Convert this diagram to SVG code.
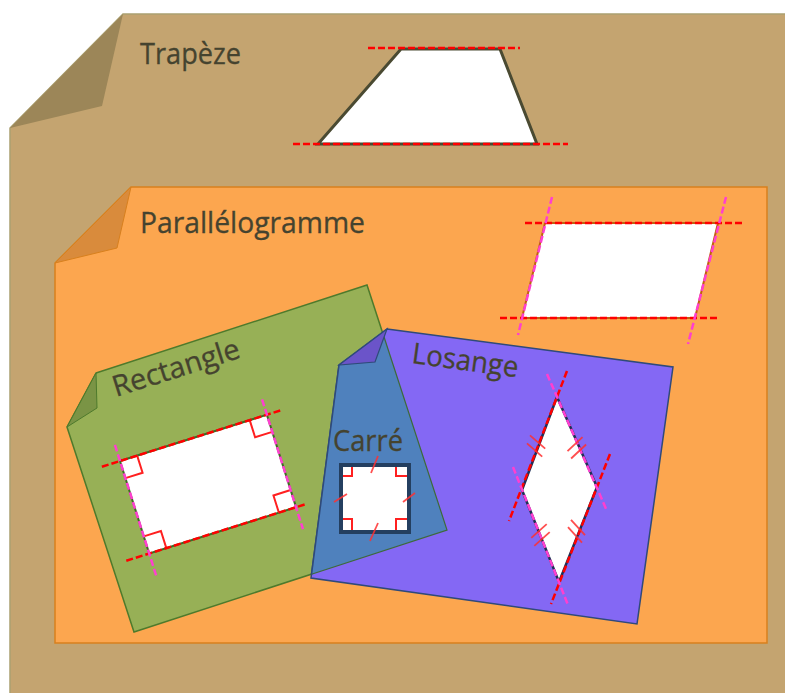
<svg xmlns="http://www.w3.org/2000/svg" width="785" height="693" viewBox="0 0 785 693">
<style>
.lbl{font-family:"Open Sans","Noto Sans","Liberation Sans",sans-serif;font-size:29px;fill:#45432f;stroke:#45432f;stroke-width:0.3}
.red{stroke:#ff0000;stroke-width:2.5;stroke-dasharray:7 3;fill:none}
.pink{stroke:#ff3fd0;stroke-width:2.5;stroke-dasharray:7 3;fill:none}
.ra{stroke:#ff2020;stroke-width:2;fill:none}
.tick{stroke:#ff3030;stroke-width:1.8;fill:none;opacity:0.85}
</style>
<rect width="785" height="693" fill="#ffffff"/>
<g id="trapeze-card">
<polygon points="123,14 790,14 790,700 10,700 10,128" fill="#c4a470" stroke="#aaa070" stroke-width="1.5"/>
<polygon points="123,14 102,106 10,128" fill="#9c8658"/>
<text class="lbl" x="140" y="64" textLength="101" lengthAdjust="spacingAndGlyphs">Trapèze</text>
</g>
<g id="trapeze-shape">
<polygon points="401,49 500,49 537,144 318,144" fill="#ffffff" stroke="#4a4a32" stroke-width="3"/>
<line class="red" x1="368" y1="48" x2="520" y2="48"/>
<line class="red" x1="293" y1="144" x2="568" y2="144"/>
</g>
<g id="parallelogramme-card">
<polygon points="131,187 767,187 767,643 55,643 55,263" fill="#fca64f" stroke="#d8801e" stroke-width="1.5"/>
<polygon points="131,187 117,248 55,263" fill="#d98b3c" stroke="#d8801e" stroke-width="1"/>
<text class="lbl" x="140" y="233" textLength="225" lengthAdjust="spacingAndGlyphs">Parallélogramme</text>
</g>
<g id="parallelogramme-shape">
<polygon points="545,223 718,223 695,318 522,318" fill="#ffffff" stroke="#c0600f" stroke-width="2"/>
<line class="red" x1="525" y1="223" x2="745" y2="223"/>
<line class="red" x1="500" y1="318" x2="720" y2="318"/>
<line class="pink" x1="552" y1="197" x2="518" y2="335"/>
<line class="pink" x1="726" y1="197" x2="688" y2="344"/>
</g>
<g id="rectangle-card">
<polygon points="96,373 367,285 447,530 134,632 67,427" fill="#97b056" stroke="#4e7a2c" stroke-width="1.5"/>
<polygon points="96,373 97,408 67,427" fill="#7a9445" stroke="#4e7a2c" stroke-width="1"/>
<text class="lbl" transform="translate(116,397) rotate(-17.5)" x="0" y="0" textLength="132" lengthAdjust="spacingAndGlyphs">Rectangle</text>
</g>
<g id="rectangle-shape" transform="translate(120,461) rotate(-17.5)">
<rect x="0" y="0" width="154" height="97" fill="#ffffff" stroke="#3f6a25" stroke-width="2"/>
<path class="ra" d="M18,0 V18 H0 M136,0 V18 H154 M0,79 H18 V97 M154,79 H136 V97"/>
<line class="red" x1="-19" y1="0" x2="170" y2="0"/>
<line class="red" x1="-24" y1="97" x2="166" y2="97"/>
<line class="pink" x1="0" y1="-17" x2="0" y2="120"/>
<line class="pink" x1="154" y1="-16" x2="154" y2="120"/>
</g>
<g id="losange-card">
<polygon points="387,329 673,367 637,624 311,578 339,365" fill="#8468f4" stroke="#2f4a7a" stroke-width="1.5"/>
<text class="lbl" transform="translate(411,363) rotate(7.7)" x="0" y="0" textLength="107" lengthAdjust="spacingAndGlyphs">Losange</text>
</g>
<g id="carre-card">
<polygon points="382.5,332.3 447,530 311.5,574.3 339,365" fill="#4f81bd"/>
<polyline points="382.5,332.3 447,530 311.5,574.3" fill="none" stroke="#3e6a3a" stroke-width="1.2"/>
<line x1="311.5" y1="574.3" x2="339" y2="365" stroke="#2f4a7a" stroke-width="1.5"/>
<polygon points="387,329 375,362 339,365" fill="#6b54c9" stroke="#2f4a7a" stroke-width="1.2"/>
<text class="lbl" x="333" y="451" textLength="70" lengthAdjust="spacingAndGlyphs">Carré</text>
</g>
<g id="carre-shape">
<rect x="341" y="465" width="68" height="67" fill="#ffffff" stroke="#243f60" stroke-width="4"/>
<path class="ra" d="M352,467 V476 H343 M396,467 V476 H407 M343,519 H352 V530 M407,519 H396 V530" stroke-width="1.6"/>
<line class="tick" x1="378" y1="456" x2="371" y2="473"/>
<line class="tick" x1="347" y1="494" x2="334" y2="502"/>
<line class="tick" x1="415" y1="493" x2="403" y2="502"/>
<line class="tick" x1="378" y1="523" x2="370" y2="541"/>
</g>
<g id="losange-shape">
<polygon points="557,397 597,487 559,582 522,490" fill="#ffffff" stroke="#1f2f55" stroke-width="2.5"/>
<line class="red" x1="567" y1="371" x2="509" y2="521"/>
<line class="red" x1="610" y1="454" x2="551" y2="604"/>
<line class="pink" x1="547" y1="374" x2="607" y2="511"/>
<line class="pink" x1="513" y1="467" x2="568" y2="605"/>
<g class="tick">
<line x1="530" y1="435.4" x2="545.2" y2="448.6"/>
<line x1="527" y1="443.4" x2="542.2" y2="456.6"/>
<line x1="567.5" y1="451.2" x2="582.5" y2="437.2"/>
<line x1="571.1" y1="458.5" x2="586.1" y2="444.5"/>
<line x1="531.3" y1="537.8" x2="546.7" y2="524.2"/>
<line x1="534.3" y1="545.8" x2="549.7" y2="532.2"/>
<line x1="571" y1="519.8" x2="585" y2="535.2"/>
<line x1="568" y1="527.2" x2="582" y2="542.6"/>
</g>
</g>
</svg>
